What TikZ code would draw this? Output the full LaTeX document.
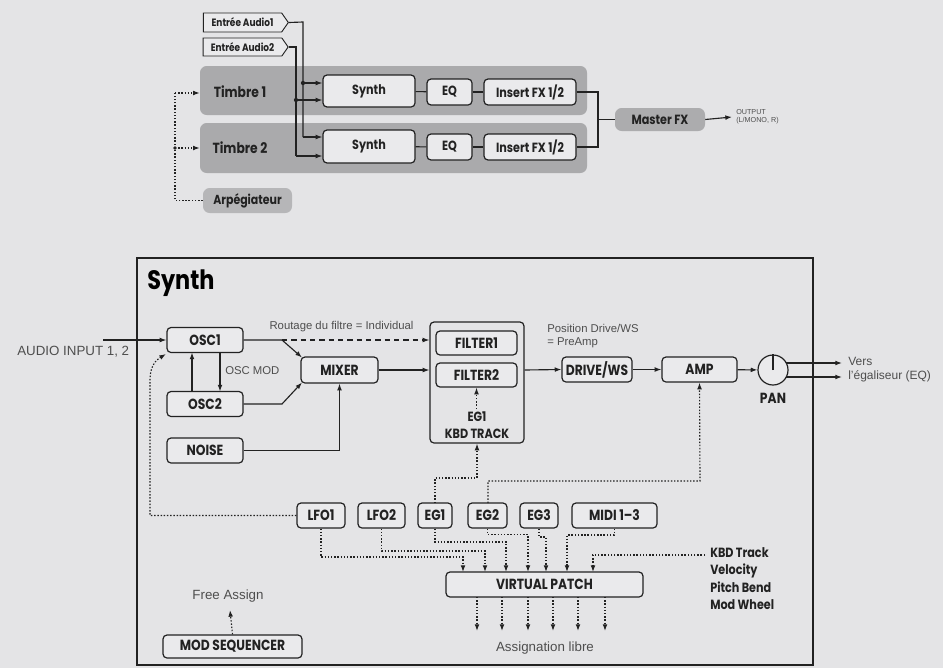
\documentclass[tikz,border=0pt]{standalone}
\usepackage{fontspec}
\setmainfont{Liberation Sans}
\newfontfamily\fut{Poppins}[FakeStretch=0.84]
\usetikzlibrary{arrows.meta,shapes.symbols,calc}
\definecolor{paper}{RGB}{228,228,230}
\definecolor{ink}{RGB}{34,34,34}
\definecolor{boxfill}{RGB}{234,234,236}
\definecolor{timbre}{RGB}{170,170,172}
\definecolor{master}{RGB}{172,172,174}
\definecolor{arpc}{RGB}{182,182,184}
\definecolor{lbl}{RGB}{78,78,78}
\def\px{0.75pt}
\tikzset{
  ln/.style={draw=ink, line width=0.85pt},
  arr/.style={ln, -{Latex[length=5pt,width=3.6pt]}},
  dotl/.style={ln, dash pattern=on 1.1pt off 1.3pt},
  darr/.style={dotl, -{Latex[length=5pt,width=3.6pt]}},
  box/.style={draw=ink, line width=0.9pt, rounded corners=3pt, fill=boxfill, inner sep=0pt,
    font=\fut\bfseries\fontsize{11}{12}\selectfont, text=ink},
  sbox/.style={box, font=\fut\bfseries\fontsize{10}{11}\selectfont},
  gbox/.style={rounded corners=5pt, inner sep=0pt},
  lab/.style={inner sep=0pt, text=lbl, font=\fontsize{8.5}{10}\selectfont},
  blab/.style={inner sep=0pt, text=ink, font=\fut\bfseries\fontsize{10}{12.5}\selectfont},
  tagbox/.style={draw=ink, line width=0.7pt, fill=boxfill, signal, signal to=east, signal pointer angle=110,
    inner sep=0pt, font=\fut\bfseries\fontsize{8}{8.5}\selectfont, text=ink},
  jdot/.style={fill=ink, circle, inner sep=0pt, minimum size=3.2pt},
}
\begin{document}
\begin{tikzpicture}[x=0.75pt,y=-0.75pt]
\path[use as bounding box, fill=paper] (0,0) rectangle (943,668);

% ---------------- top: timbres ----------------
\node[gbox, fill=timbre, minimum width=387*\px, minimum height=49*\px] (t1) at (393.5,90.5) {};
\node[gbox, fill=timbre, minimum width=387*\px, minimum height=50*\px] (t2) at (393.5,148) {};
\node[gbox, fill=arpc, minimum width=89*\px, minimum height=25*\px, font=\fut\bfseries\fontsize{9.8}{10}\selectfont, text=ink] (arp) at (247.5,200.5) {Arpégiateur};
\node[blab, font=\fut\bfseries\fontsize{11}{12}\selectfont] (tt1) at (240,92) {Timbre 1};
\node[blab, font=\fut\bfseries\fontsize{11}{12}\selectfont] (tt2) at (240,148) {Timbre 2};

\node[tagbox, minimum width=85*\px, minimum height=19*\px] (a1) at (242.5,22.5) {Entrée Audio1\hspace{5pt}};
\node[tagbox, minimum width=85*\px, minimum height=18*\px] (a2) at (242.5,47) {Entrée Audio2\hspace{5pt}};

\node[sbox, minimum width=92*\px, minimum height=32*\px] (s1) at (369,91) {Synth};
\node[sbox, minimum width=45*\px, minimum height=26*\px] (eq1) at (449.5,92) {EQ};
\node[sbox, minimum width=92*\px, minimum height=26*\px] (fx1) at (530,92) {Insert FX 1/2};
\node[sbox, minimum width=92*\px, minimum height=33*\px] (s2) at (369,146.5) {Synth};
\node[sbox, minimum width=45*\px, minimum height=26*\px] (eq2) at (449.5,147) {EQ};
\node[sbox, minimum width=92*\px, minimum height=26*\px] (fx2) at (530,147) {Insert FX 1/2};
\node[gbox, fill=master, minimum width=90*\px, minimum height=23*\px, font=\fut\bfseries\fontsize{10}{10}\selectfont, text=ink] (mfx) at (660,119.5) {Master FX};
\coordinate (outp) at (732,117);
\node[anchor=south west, inner sep=0pt, text=lbl, font=\fontsize{5.4}{6}\selectfont] (o1) at (736,115) {OUTPUT};
\node[anchor=north west, inner sep=0pt, text=lbl, font=\fontsize{5.4}{6}\selectfont] (o2) at (736,117.5) {(L/MONO, R)};

% audio input routing
\draw[ln] (a1.east) -- (303,22) -- (303,137);
\draw[arr] (303,137) -- (s2.west |- 0,137);
\draw[arr] (303,83) -- (s1.west |- 0,83);
\node[jdot] at (303,83) {};
\draw[ln] (a2.east) -- (296,47) -- (296,156);
\draw[arr] (296,156) -- (s2.west |- 0,156);
\draw[arr] (296,100) -- (s1.west |- 0,100);
\node[jdot] at (296,100) {};

\draw[ln] (s1) -- (eq1); \draw[ln] (eq1) -- (fx1);
\draw[ln] (s2) -- (eq2); \draw[ln] (eq2) -- (fx2);
\draw[ln] (fx1.east) -- (598,92) -- (598,147) -- (fx2.east);
\draw[ln] (598,119.5) -- (mfx.west);
\draw[arr] (mfx.east) -- (outp);

% arpeggiator
\draw[dotl] (arp.west) -- (175,200.5) -- (175,93);
\draw[darr] (175,93) -- (t1.west |- 0,93);
\draw[darr] (175,148) -- (t2.west |- 0,148);
\node[jdot, minimum size=2.8pt] at (175,148) {};

% ---------------- Synth block ----------------
\node[draw=ink, line width=0.9pt, minimum width=676*\px, minimum height=407*\px, inner sep=0pt] (sbk) at (475,461.5) {};
\node[anchor=west, inner sep=0pt, text=black, font=\fut\bfseries\fontsize{20}{21}\selectfont] (stitle) at (147,283) {Synth};

\node[box, minimum width=76*\px, minimum height=25*\px] (osc1) at (205,340) {OSC1};
\node[box, minimum width=76*\px, minimum height=25*\px] (osc2) at (205,404) {OSC2};
\node[box, minimum width=76*\px, minimum height=25*\px] (noise) at (205,450.5) {NOISE};
\node[box, minimum width=77*\px, minimum height=26*\px] (mixer) at (339.5,370) {MIXER};

\node[draw=ink, line width=0.9pt, rounded corners=3pt, minimum width=94*\px, minimum height=121*\px, inner sep=0pt] (fg) at (477,382.5) {};
\node[box, minimum width=81*\px, minimum height=24*\px] (f1) at (476.5,343) {FILTER1};
\node[box, minimum width=81*\px, minimum height=24*\px] (f2) at (476.5,375) {FILTER2};
\node[blab, align=center] (egk) at (477,425) {EG1\\KBD TRACK};

\node[box, minimum width=70*\px, minimum height=25*\px] (drive) at (597,369.5) {DRIVE/WS};
\node[box, minimum width=75*\px, minimum height=25*\px] (amp) at (699.5,369.5) {AMP};
\node[draw=ink, line width=0.9pt, circle, minimum size=30*\px, inner sep=0pt, fill=boxfill] (pan) at (773,370) {};
\draw[ln] (pan.center) -- (pan.north);
\node[blab, font=\fut\bfseries\fontsize{11}{12}\selectfont] (panl) at (773,398) {PAN};

\node[lab, anchor=west, font=\fontsize{10}{11}\selectfont] (ain) at (17,352) {AUDIO INPUT 1, 2};
\coordinate (ainl) at (103,340);
\node[lab] (rout) at (341.5,327) {Routage du filtre = Individual};
\node[lab, anchor=west] (oscmod) at (225,371) {OSC MOD};
\node[lab, anchor=west, align=left] (posd) at (547,336) {Position Drive/WS\\= PreAmp};
\node[lab, anchor=west, align=left, font=\fontsize{9}{10.5}\selectfont] (vers) at (848,370) {Vers\\l'égaliseur (EQ)};

\draw[arr] (ainl) -- (osc1.west);
\draw[arr] (192,391.5) -- (192,352.5);
\draw[arr] (220,352.5) -- (220,391.5);
\draw[arr] (osc1.east) -- (282,340) -- (302,357.5);
\draw[arr] (osc2.east) -- (282,404) -- (302,382.5);
\draw[arr] (noise.east) -| (mixer.south);
\draw[ln, dash pattern=on 4pt off 3pt, -{Latex[length=5pt,width=3.6pt]}] (282,340) -- (fg.west |- 0,340);
\draw[arr] (mixer.east) -- (fg.west |- 0,370);
\draw[arr] (fg.east |- 0,370) -- (drive.west);
\draw[arr] (drive) -- (amp);
\draw[arr] (amp) -- (pan);
\draw[arr] (786,363) -- (842,363);
\draw[arr] (786,377) -- (842,377);
\draw[darr] (476.5,409) -- (f2.south);

% modulators
\node[box, minimum width=48*\px, minimum height=25*\px] (lfo1) at (321,515.5) {LFO1};
\node[box, minimum width=47*\px, minimum height=25*\px] (lfo2) at (381.5,515.5) {LFO2};
\node[box, minimum width=34*\px, minimum height=25*\px] (eg1) at (435,515.5) {EG1};
\node[box, minimum width=39*\px, minimum height=25*\px] (eg2) at (487.5,515.5) {EG2};
\node[box, minimum width=38*\px, minimum height=25*\px] (eg3) at (539,515.5) {EG3};
\node[box, minimum width=85*\px, minimum height=25*\px] (midi) at (614.5,515.5) {MIDI 1–3};
\node[box, minimum width=197*\px, minimum height=25*\px] (vp) at (544.5,584.5) {VIRTUAL PATCH};
\node[box, minimum width=139*\px, minimum height=23*\px] (mseq) at (232.5,646.5) {MOD SEQUENCER};
\node[lab, font=\fontsize{10}{11}\selectfont] (fa) at (228,596) {Free Assign};
\node[lab, font=\fontsize{10}{11}\selectfont] (al) at (545,648) {Assignation libre};
\node[blab, anchor=north west, align=left, font=\fut\bfseries\fontsize{10}{13.2}\selectfont] (kbd) at (710,547) {KBD Track\\Velocity\\Pitch Bend\\Mod Wheel};
\coordinate (kbdl) at (705,555);

\draw[darr] (lfo1.west) -- (150,515.5) -- (150,380) .. controls (150,366) and (156,360) .. (166,354);
\draw[darr] (435,503) -- (435,478) -- (477,478) -- (fg.south);
\draw[darr] (488,503) -- (488,481) -- (700,481) -- (amp.south);
\draw[darr] (lfo1.south) -- (321,557) -- (463,557) -- (463,572);
\draw[darr] (lfo2.south) -- (381.5,551) -- (485,551) -- (485,572);
\draw[darr] (eg1.south) -- (435,542) -- (506,542) -- (506,572);
\draw[darr] (eg2.south) -- (487.5,534.5) -- (528,534.5) -- (528,572);
\draw[darr] (eg3.south) -- (539,537) -- (546,537) -- (546,572);
\draw[darr] (midi.south) -- (614.5,535) -- (567,535) -- (567,572);
\draw[darr] (kbdl) -- (593,555) -- (593,572);
\foreach \xx in {477,502,528,553,578,605}{
  \draw[darr] (\xx,597) -- (\xx,631);
}
\draw[darr] (mseq.north) -- (230,610);
\end{tikzpicture}
\end{document}
